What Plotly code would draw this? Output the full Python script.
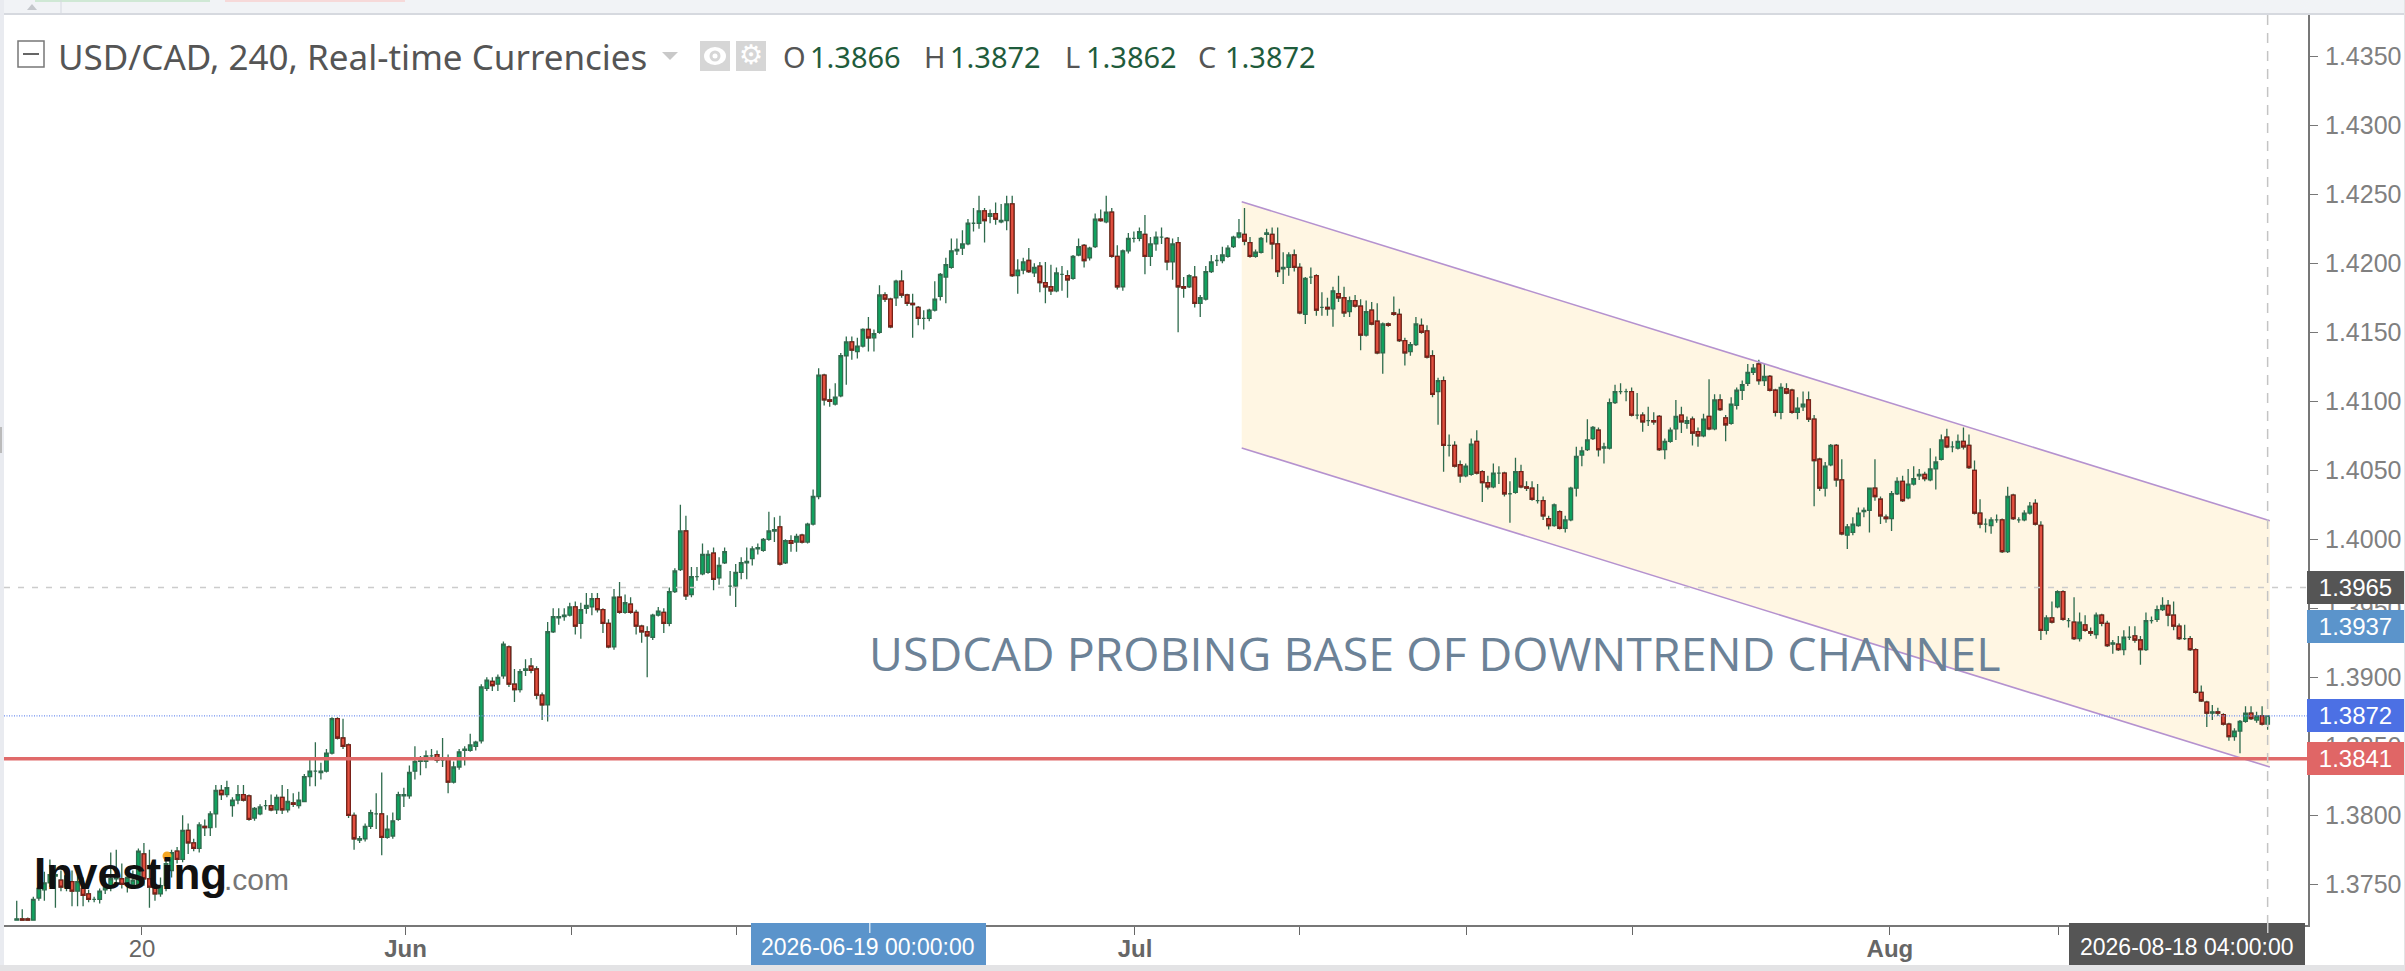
import plotly.graph_objects as go

W, H = 2405, 971

# candles in pips (price * 10000), 4h bars
opens = [
    13724,13725,13725,13724,13740,13746,13751,13756,13753,13748,13752,13745,13747,13743,13739,13739,13746,13748,13754,13754,13750,13750,13750,13772,13754,13748,13743,13749,13760,13774,13768,13789,13780,13776,13792,13791,13801,13818,13815,13807,13811,13815,13814,13798,13801,13807,13807,13804,13813,13804,13809,13807,13810,13828,13832,13831,13832,13845,13870,13856,13851,13800,13782,13783,13792,13801,13801,13784,13785,13797,13814,13814,13832,13839,13839,13843,13844,13840,13841,13824,13835,13847,13847,13850,
    13854,13892,13897,13895,13901,13922,13895,13891,13905,13908,13906,13887,13880,13933,13943,13944,13945,13951,13939,13950,13951,13957,13949,13939,13922,13958,13947,13953,13947,13937,13933,13929,13945,13947,13939,13962,13978,14006,13960,13973,13975,13976,13990,13972,13983,13966,13966,13976,13983,13986,13993,13992,14000,14006,14009,13983,13999,13998,14003,13998,14011,14031,
    14119,14101,14098,14104,14133,14143,14136,14140,14152,14146,14150,14177,14174,14175,14187,14177,14171,14168,14160,14160,14166,14176,14190,14197,14209,14211,14214,14229,14229,14238,14234,14236,14230,14231,14243,14191,14195,14202,14193,14198,14186,14183,14180,14192,14191,14189,14206,14213,14204,14212,14232,14230,14237,14205,14183,14209,14218,14218,14221,14205,14214,14219,14218,14201,14215,14183,14183,14190,14171,14174,14194,14202,14202,14205,14212,14219,14221,14215,14205,14208,14221,14221,14214,
    14196,14197,14206,14197,14163,14190,14191,14168,14168,14167,14178,14175,14165,14173,14169,14148,14166,14158,14135,14156,14164,14163,14144,14136,14141,14155,14151,14133,14107,14115,14068,14068,14054,14046,14047,14071,14049,14041,14038,14048,14048,14033,14034,14049,14038,14037,14028,14028,14015,14010,14020,14008,14014,14037,14061,14065,14073,14079,14066,14066,14099,14107,14107,14107,14090,14090,14086,14086,14089,14065,14071,14080,14090,
    14084,14087,14078,14075,14089,14080,14101,14088,14084,14097,14108,14113,14121,14127,14115,14118,14108,14092,14109,14108,14092,14096,14101,14087,14058,14037,14054,14068,14043,14003,14005,14010,14020,14021,14037,14029,14016,14015,14033,14042,14030,14040,14046,14047,14043,14051,14058,14074,14067,14066,14071,14068,14050,14019,14011,14010,14014,14014,13991,14032,14014,14014,14019,14026,14010,13934,13943,13951,13962,13941,13940,13928,13938,13933,13931,13945,13939,13924,13924,
    13920,13929,13930,13927,13920,13941,13942,13949,13952,13945,13937,13928,13928,13920,13889,13882,13874,13875,13873,13866,13857,13861,13868,13874,13869,13872,13866,
]
highs = [
    13738,13732,13726,13741,13750,13759,13768,13764,13760,13762,13760,13760,13755,13746,13741,13747,13757,13773,13775,13765,13762,13760,13776,13780,13775,13760,13755,13770,13775,13777,13800,13794,13783,13795,13797,13803,13822,13822,13825,13813,13822,13822,13815,13806,13808,13811,13815,13815,13822,13819,13816,13817,13830,13841,13853,13838,13848,13871,13871,13870,13852,13802,13785,13794,13804,13816,13831,13800,13802,13817,13820,13836,13850,13843,13847,13848,13847,13856,13844,13839,13848,13850,13859,13854,
    13895,13900,13900,13902,13926,13923,13906,13906,13913,13914,13908,13889,13940,13950,13950,13950,13954,13955,13954,13961,13961,13961,13950,13942,13964,13969,13960,13958,13949,13938,13937,13946,13951,13950,13965,13979,14025,14017,13980,13980,13997,13992,13994,13987,13994,13977,13982,13987,13994,13995,13997,14001,14020,14016,14017,14000,14003,14004,14004,14012,14036,14124,
    14120,14109,14113,14135,14147,14147,14146,14153,14161,14152,14184,14179,14175,14188,14195,14178,14178,14169,14166,14167,14187,14193,14204,14218,14218,14224,14232,14240,14249,14240,14239,14244,14243,14249,14249,14203,14204,14211,14200,14201,14201,14199,14197,14198,14195,14206,14218,14214,14212,14236,14239,14249,14240,14213,14210,14222,14223,14226,14235,14219,14223,14226,14219,14218,14219,14190,14192,14198,14177,14198,14206,14206,14212,14213,14220,14232,14240,14219,14210,14219,14225,14226,14226,
    14208,14208,14210,14200,14190,14197,14192,14179,14175,14183,14191,14183,14176,14177,14174,14173,14172,14171,14157,14157,14176,14167,14146,14143,14161,14160,14155,14137,14117,14118,14076,14071,14057,14055,14073,14079,14050,14046,14055,14053,14049,14042,14059,14054,14042,14042,14040,14031,14017,14026,14021,14017,14038,14067,14067,14087,14082,14081,14070,14102,14112,14113,14109,14110,14106,14092,14096,14092,14090,14073,14081,14101,14096,
    14089,14089,14081,14091,14116,14105,14105,14090,14103,14110,14115,14127,14127,14130,14127,14119,14109,14113,14113,14109,14103,14107,14107,14090,14059,14056,14069,14069,14058,14011,14016,14023,14023,14037,14058,14031,14018,14035,14045,14046,14051,14053,14051,14049,14066,14060,14076,14080,14071,14076,14081,14076,14057,14029,14015,14016,14018,14015,14038,14033,14016,14021,14027,14029,14013,13945,13955,13963,13963,13943,13958,13947,13945,13936,13947,13946,13941,13927,13930,
    13934,13937,13937,13930,13947,13944,13952,13958,13956,13955,13939,13938,13930,13921,13894,13883,13880,13878,13874,13867,13863,13869,13879,13879,13875,13879,13872,
]
lows = [
    13724,13724,13724,13724,13738,13738,13748,13733,13745,13745,13734,13734,13734,13737,13737,13736,13743,13745,13750,13747,13744,13747,13748,13749,13733,13738,13741,13745,13755,13765,13766,13772,13774,13773,13785,13785,13791,13811,13813,13799,13808,13810,13796,13796,13800,13804,13803,13801,13801,13802,13806,13805,13810,13821,13821,13826,13831,13844,13855,13848,13798,13775,13780,13781,13790,13790,13771,13783,13783,13796,13806,13812,13826,13829,13834,13840,13838,13835,13816,13823,13833,13836,13846,13847,
    13852,13890,13890,13890,13899,13893,13882,13889,13901,13903,13884,13869,13868,13932,13938,13941,13944,13931,13928,13946,13945,13947,13932,13921,13920,13946,13946,13946,13931,13925,13900,13927,13944,13932,13937,13961,13977,13956,13958,13970,13974,13975,13963,13967,13982,13959,13951,13971,13971,13981,13989,13991,13999,13998,13981,13982,13991,13991,13997,13997,14010,14029,
    14097,14096,14097,14103,14112,14130,14131,14139,14136,14136,14149,14172,14153,14169,14175,14169,14146,14155,14152,14158,14165,14173,14171,14196,14206,14206,14213,14223,14225,14215,14229,14228,14229,14224,14190,14178,14192,14193,14190,14179,14171,14177,14179,14180,14175,14188,14205,14197,14202,14211,14230,14229,14204,14181,14180,14207,14215,14216,14192,14198,14209,14214,14195,14188,14150,14175,14182,14168,14161,14173,14193,14198,14200,14204,14211,14218,14213,14204,14204,14207,14215,14203,14190,
    14185,14191,14194,14163,14156,14185,14162,14162,14162,14154,14172,14161,14161,14168,14137,14147,14155,14134,14120,14154,14162,14143,14126,14133,14140,14149,14131,14103,14083,14049,14060,14052,14041,14045,14046,14047,14027,14036,14037,14040,14031,14012,14033,14037,14035,14028,14026,14014,14007,14009,14007,14005,14013,14031,14053,14064,14072,14060,14055,14065,14098,14105,14100,14089,14087,14078,14082,14083,14064,14058,14070,14072,14077,
    14080,14068,14067,14074,14079,14079,14093,14071,14083,14094,14101,14111,14119,14112,14111,14107,14089,14087,14105,14091,14087,14093,14085,14024,14035,14031,14053,14038,14003,13993,14003,14009,14016,14005,14028,14011,14012,14006,14032,14027,14029,14039,14043,14042,14042,14036,14057,14066,14063,14065,14065,14051,14018,14008,14005,14004,14012,13990,13990,14014,14012,14013,14018,14010,13927,13931,13939,13950,13941,13936,13927,13926,13933,13930,13928,13937,13922,13917,13919,
    13916,13927,13925,13909,13919,13939,13940,13948,13937,13934,13927,13927,13919,13888,13882,13864,13869,13872,13865,13854,13854,13845,13867,13869,13867,13865,13862,
]
closes = [
    13725,13724,13724,13739,13747,13751,13757,13757,13748,13756,13745,13752,13742,13739,13739,13745,13748,13754,13756,13750,13755,13753,13774,13754,13748,13743,13749,13765,13773,13768,13789,13780,13776,13793,13791,13801,13818,13815,13820,13811,13815,13811,13797,13805,13806,13807,13804,13813,13804,13810,13808,13811,13828,13832,13832,13832,13845,13870,13856,13850,13800,13783,13783,13792,13802,13801,13784,13790,13796,13815,13815,13831,13839,13840,13843,13843,13840,13840,13824,13835,13846,13848,13851,13853,
    13893,13898,13894,13900,13924,13895,13891,13904,13906,13905,13887,13880,13933,13944,13944,13945,13951,13937,13949,13952,13957,13949,13939,13922,13958,13947,13954,13947,13937,13933,13930,13945,13948,13939,13962,13977,14006,13959,13973,13973,13989,13989,13971,13981,13991,13966,13976,13983,13984,13993,13994,14000,14006,14007,13982,13999,13997,14002,13998,14011,14031,14119,
    14101,14100,14103,14133,14143,14137,14140,14152,14146,14149,14177,14174,14154,14187,14177,14171,14170,14160,14160,14166,14174,14192,14199,14209,14210,14214,14229,14229,14238,14231,14236,14232,14231,14243,14191,14195,14201,14194,14197,14186,14183,14180,14193,14192,14188,14205,14212,14202,14211,14232,14231,14237,14205,14183,14209,14218,14218,14223,14205,14214,14219,14219,14201,14214,14183,14182,14191,14171,14175,14194,14201,14202,14206,14211,14219,14222,14216,14205,14208,14218,14222,14214,14194,
    14197,14206,14197,14164,14189,14190,14166,14168,14167,14180,14175,14164,14173,14169,14148,14165,14156,14135,14156,14155,14163,14144,14135,14141,14156,14150,14132,14105,14115,14068,14068,14053,14046,14053,14069,14048,14041,14038,14048,14048,14033,14033,14049,14038,14037,14029,14028,14017,14010,14025,14008,14014,14037,14060,14064,14072,14081,14065,14067,14099,14107,14107,14107,14090,14090,14085,14086,14085,14065,14071,14079,14089,14085,
    14086,14077,14075,14087,14080,14101,14094,14083,14098,14108,14112,14121,14124,14115,14118,14108,14092,14110,14106,14092,14095,14098,14087,14057,14037,14053,14068,14043,14004,14009,14011,14019,14021,14037,14031,14017,14015,14033,14042,14028,14040,14044,14047,14044,14051,14056,14072,14067,14067,14071,14067,14052,14019,14011,14011,14014,14014,13991,14031,14015,14014,14019,14024,14011,13934,13943,13940,13962,13942,13941,13928,13940,13934,13932,13945,13939,13923,13925,13920,
    13929,13929,13927,13920,13941,13941,13949,13952,13945,13937,13928,13928,13920,13889,13883,13874,13875,13874,13866,13857,13861,13868,13874,13870,13872,13866,13872,
]

# time axis, bar numbers of the ticks
tick_bars = [22.65, 70.3, 100.4, 130.2, 154.2, 202.2, 232.0, 262.2, 292.1, 338.7, 369.1]
tick_labels = ['20', '<b>Jun</b>', '', '', '', '<b>Jul</b>', '', '', '', '<b>Aug</b>', '']
price_ticks = [1.3750, 1.3800, 1.3850, 1.3900, 1.3950, 1.4000, 1.4050, 1.4100,
               1.4150, 1.4200, 1.4250, 1.4300, 1.4350]

# channel drawing
channel_bars = [221.5, 407.4]
channel_top = [1.42446, 1.40135]
channel_bottom = [1.40662, 1.3835]

# price levels
level_dashed = 1.3965
level_blue = 1.3872
level_red = 1.3841
level_last = 1.3937

GREEN, RED = '#0fa35f', '#e2503f'
WICK, RED_EDGE = '#2f6b4d', '#7a2018'

bars = list(range(len(closes)))
xr = [-2.3, 414.3]
yr = [1.37205, 1.43799]


def px(x):
    return x / W


def py(y):
    return 1 - y / H


def price(a):
    return [v / 10000 for v in a]


def rect(x0, y0, x1, y1, fill, line=None, width=0):
    return dict(type='rect', xref='paper', yref='paper', x0=px(x0), x1=px(x1),
                y0=py(y0), y1=py(y1), fillcolor=fill, layer='above',
                line=dict(color=line or fill, width=width))


def circle(cx, cy, rx, ry, fill):
    return dict(type='circle', xref='paper', yref='paper', x0=px(cx - rx), x1=px(cx + rx),
                y0=py(cy - ry), y1=py(cy + ry), fillcolor=fill, layer='above',
                line=dict(width=0))


def text(x, y, s, size, color, font='Noto Sans', anchor='left'):
    return dict(x=px(x), y=py(y), xref='paper', yref='paper', text=s, showarrow=False,
                xanchor=anchor, yanchor='middle', font=dict(family=font, size=size, color=color),
                borderpad=0, borderwidth=0)


def price_box(value, color):
    return dict(x=px(2307), y=value, xref='paper', yref='y', text='%.4f' % value, showarrow=False,
                xanchor='left', yanchor='middle', width=97, height=33, bgcolor=color,
                font=dict(family='Liberation Sans', size=24, color='white'),
                align='center', borderpad=0, borderwidth=0)


fig = go.Figure()
# all candles first with the wick colour, red bodies go on top of them
fig.add_trace(go.Candlestick(
    x=bars, open=price(opens), high=price(highs), low=price(lows), close=price(closes),
    increasing=dict(line=dict(color=WICK, width=1.3), fillcolor=GREEN),
    decreasing=dict(line=dict(color=WICK, width=1.3), fillcolor=RED),
    hoverinfo='skip', showlegend=False))
down = [i for i in bars if closes[i] < opens[i]]
fig.add_trace(go.Candlestick(
    x=down, open=[opens[i] / 10000 for i in down], high=[opens[i] / 10000 for i in down],
    low=[closes[i] / 10000 for i in down], close=[closes[i] / 10000 for i in down],
    decreasing=dict(line=dict(color=RED_EDGE, width=1.3), fillcolor=RED),
    increasing=dict(line=dict(color=RED_EDGE, width=1.3), fillcolor=RED),
    hoverinfo='skip', showlegend=False))

for edge in (channel_top, channel_bottom):
    fig.add_trace(go.Scatter(x=channel_bars, y=edge, mode='lines', hoverinfo='skip', showlegend=False,
                             line=dict(color='#b592cf', width=1.6)))
fig.add_trace(go.Scatter(x=xr, y=[level_dashed] * 2, mode='lines', hoverinfo='skip', showlegend=False,
                         line=dict(color='#cccccc', width=1.5, dash='6px,8px')))
fig.add_trace(go.Scatter(x=xr, y=[level_blue] * 2, mode='lines', hoverinfo='skip', showlegend=False,
                         line=dict(color='#6f8ff0', width=1.4, dash='1px,1.5px')))
fig.add_trace(go.Scatter(x=xr, y=[level_red] * 2, mode='lines', hoverinfo='skip', showlegend=False,
                         line=dict(color='#e06a6a', width=3.5)))
fig.add_trace(go.Scatter(x=[bars[-1]] * 2, y=yr, mode='lines', hoverinfo='skip', showlegend=False,
                         line=dict(color='#c4c4c4', width=1.5, dash='10px,8px')))

shapes = [
    dict(type='path', xref='x', yref='y', layer='below', fillcolor='#fff6e3', line=dict(width=0),
         path='M %s,%s L %s,%s L %s,%s L %s,%s Z' % (
             channel_bars[0], channel_top[0], channel_bars[1], channel_top[1],
             channel_bars[1], channel_bottom[1], channel_bars[0], channel_bottom[0])),
    # window chrome around the chart
    rect(0, 0, W, 14, '#f1f3f6'),
    rect(0, 13, W, 15, '#d6d9df'),
    rect(35, 0, 210, 2, '#cfe8d5'),
    rect(225, 0, 405, 2, '#f6d9d9'),
    rect(60.5, 0, 61.5, 13, '#d6d9df'),
    dict(type='path', xref='paper', yref='paper', layer='above', fillcolor='#c4c7cc', line=dict(width=0),
         path='M %s,%s L %s,%s L %s,%s Z' % (px(27), py(10), px(37), py(10), px(32), py(4))),
    rect(0, 0, 4, H, '#e9ebf0'),
    rect(0, 427, 2, 453, '#bbbbbb'),
    rect(0, 965, W, H, '#e3e3e5'),
    rect(2404, 0, W, H, '#e3e3e5'),
    # legend icons
    rect(18, 41, 44, 67, 'white', '#777777', 1.5),
    rect(23, 53, 39, 55, '#666666'),
    dict(type='path', xref='paper', yref='paper', layer='above', fillcolor='#c9c9c9', line=dict(width=0),
         path='M %s,%s L %s,%s L %s,%s Z' % (px(662), py(52), px(678), py(52), px(670), py(60))),
    rect(700, 41, 730, 71, '#d6d6d6'),
    rect(736, 41, 766, 71, '#d6d6d6'),
    circle(715, 56, 11, 9, 'white'),
    circle(715, 56, 5.5, 5.5, '#d6d6d6'),
    circle(715, 56, 2.5, 2.5, 'white'),
    circle(167, 856, 4.5, 4.5, '#f5a623'),
    # crosshair labels on the time axis
    rect(751, 923, 986, 965, '#5b94cb'),
    rect(869, 923, 870.5, 933, '#cfe0f0'),
    rect(2069, 923, 2305, 965, '#555555'),
    rect(2267, 923, 2268.5, 933, '#cccccc'),
]

annotations = [
    text(58, 57, 'USD/CAD, 240, Real-time Currencies', 35, '#555555'),
    text(751, 55, '⚙', 27, 'white', 'DejaVu Sans', 'center'),
    text(783, 57, 'O', 29, '#555555'), text(810, 57, '1.3866', 29, '#1f5c3c'),
    text(924, 57, 'H', 29, '#555555'), text(950, 57, '1.3872', 29, '#1f5c3c'),
    text(1065, 57, 'L', 29, '#555555'), text(1086, 57, '1.3862', 29, '#1f5c3c'),
    text(1198, 57, 'C', 29, '#555555'), text(1225, 57, '1.3872', 29, '#1f5c3c'),
    text(869, 653, 'USDCAD PROBING BASE OF DOWNTREND CHANNEL', 46.5, '#6c8297', 'Open Sans'),
    text(34, 873, '<b>Investing</b>', 44, '#111111', 'Liberation Sans'),
    text(224, 879, '.com', 30, '#777777', 'Liberation Sans'),
    text(868, 947, '2026-06-19 00:00:00', 23, 'white', 'Liberation Sans', 'center'),
    text(2187, 947, '2026-08-18 04:00:00', 23, 'white', 'Liberation Sans', 'center'),
    price_box(level_dashed, '#555555'),
    price_box(level_last, '#5b94cb'),
    price_box(level_blue, '#4c70e4'),
    price_box(level_red, '#e06666'),
]

fig.update_layout(
    width=W, height=H, margin=dict(l=0, r=0, t=0, b=0, pad=0),
    paper_bgcolor='white', plot_bgcolor='white', showlegend=False,
    boxmode='overlay', boxgap=0.35, boxgroupgap=0,
    shapes=shapes, annotations=annotations,
    xaxis=dict(domain=[px(4), px(2308)], range=xr, type='linear', rangeslider=dict(visible=False),
               showgrid=False, zeroline=False, showline=True, linecolor='#777777', linewidth=2,
               ticks='outside', ticklen=8, tickcolor='#666666', tickvals=tick_bars, ticktext=tick_labels,
               ticklabelstandoff=-7,
               tickfont=dict(family='Liberation Sans', size=24, color='#666666')),
    yaxis=dict(domain=[py(925), py(15)], range=yr, side='right', showgrid=False, zeroline=False,
               showline=True, linecolor='#777777', linewidth=2, ticks='outside', ticklen=8,
               tickcolor='#777777', tickvals=price_ticks, tickformat='.4f', ticklabelstandoff=2,
               tickfont=dict(family='Liberation Sans', size=25, color='#808080')),
)

fig.write_html('out.html', config=dict(displayModeBar=False),
               post_script="document.body.style.margin='0';")
